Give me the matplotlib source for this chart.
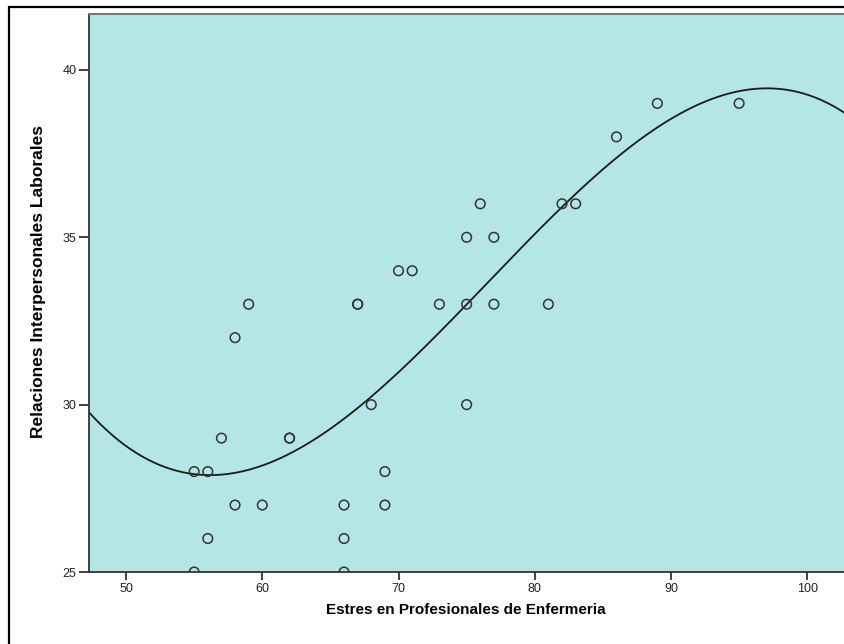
import numpy as np
import matplotlib
matplotlib.use("Agg")
import matplotlib.pyplot as plt
from matplotlib.patches import Rectangle

# Estres (x) vs Relaciones interpersonales (y)
estres = [55, 55, 56, 56, 57, 58, 58, 59, 60, 62, 62, 66, 66, 66, 67, 67, 68, 69, 69,
          70, 71, 73, 75, 75, 75, 76, 77, 77, 81, 82, 83, 86, 89, 95]
relaciones = [25, 28, 28, 26, 29, 27, 32, 33, 27, 29, 29, 27, 26, 25, 33, 33, 30, 28, 27,
              34, 34, 33, 35, 33, 30, 36, 35, 33, 33, 36, 36, 38, 39, 39]
x_ticks = [50, 60, 70, 80, 90, 100]
y_ticks = [25, 30, 35, 40]

plt.rcParams["font.family"] = ["Liberation Sans", "DejaVu Sans"]

W, H = 844, 644
fig = plt.figure(figsize=(W / 100, H / 100), dpi=100)
ax = fig.add_axes([89 / W, 1 - 572 / H, (W - 89) / W + 0.01, (572 - 14) / H])
ax.set_facecolor("#b4e6e6")

ax.scatter(estres, relaciones, s=48, facecolors="none", edgecolors="#333333",
           linewidths=1.1, zorder=3)

# cubic fit (like SPSS "Cubic" fit line)
coef = np.polyfit(estres, relaciones, 3)
xs = np.linspace(47.3, 104, 400)
ax.plot(xs, np.polyval(coef, xs), color="#1a1a1a", linewidth=1.3, zorder=2)

ax.set_xlim(47.28, 102.7 + 0.01 * W / 13.62)
ax.set_ylim(25, 41.67)
ax.set_xticks(x_ticks)
ax.set_yticks(y_ticks)
ax.tick_params(direction="out", width=1.3, color="#333333",
               labelsize=9, labelcolor="#222222", pad=2)
ax.tick_params(axis="y", length=7)
ax.tick_params(axis="x", length=6)

for side in ("left", "bottom"):
    ax.spines[side].set_color("#333333")
    ax.spines[side].set_linewidth(1.3)
ax.spines["top"].set_color("#777777")
ax.spines["top"].set_linewidth(1.5)
ax.spines["right"].set_visible(False)

fig.text(466 / W, 1 - 610 / H, "Estres en Profesionales de Enfermeria",
         ha="center", va="center", fontsize=11, fontweight="bold")
fig.text(39 / W, 1 - 281 / H, "Relaciones Interpersonales Laborales",
         ha="center", va="center", rotation=90, fontsize=12.5, fontweight="bold")

# outer chart frame (cropped on right and bottom)
fig.patches.append(Rectangle((9 / W, -0.05), 1.1, 1 - 7 / H + 0.05,
                             transform=fig.transFigure, fill=False,
                             edgecolor="black", linewidth=1.6))

fig.savefig("out.png", dpi=100)
